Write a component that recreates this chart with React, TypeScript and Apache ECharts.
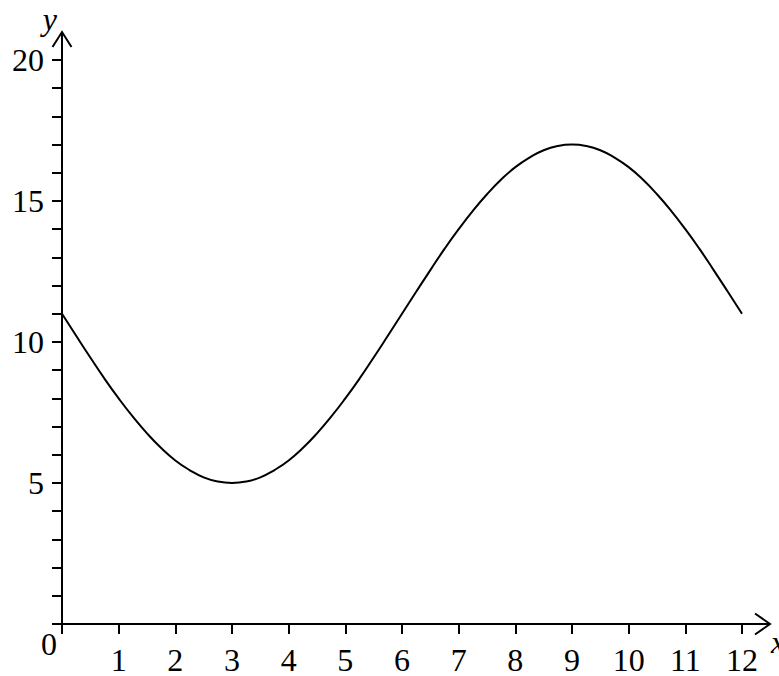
import React, { useEffect, useRef } from "react";
import * as echarts from "echarts";

const xValues = [0, 0.25, 0.5, 0.75, 1, 1.25, 1.5, 1.75, 2, 2.25, 2.5, 2.75, 3, 3.25, 3.5, 3.75, 4, 4.25, 4.5, 4.75, 5, 5.25, 5.5, 5.75, 6, 6.25, 6.5, 6.75, 7, 7.25, 7.5, 7.75, 8, 8.25, 8.5, 8.75, 9, 9.25, 9.5, 9.75, 10, 10.25, 10.5, 10.75, 11, 11.25, 11.5, 11.75, 12];
const yValues = [11, 10.22, 9.45, 8.7, 8, 7.35, 6.76, 6.24, 5.8, 5.46, 5.2, 5.05, 5, 5.05, 5.2, 5.46, 5.8, 6.24, 6.76, 7.35, 8, 8.7, 9.45, 10.22, 11, 11.78, 12.55, 13.3, 14, 14.65, 15.24, 15.76, 16.2, 16.54, 16.8, 16.95, 17, 16.95, 16.8, 16.54, 16.2, 15.76, 15.24, 14.65, 14, 13.3, 12.55, 11.78, 11];
const xMin = 0, xMax = 12, xStep = 1;
const yMin = 0, yMax = 20, yStep = 5;
const originLabel = "0";
const xName = "x";
const yName = "y";

const FONT = "Liberation Serif";

export default function App() {
  const ref = useRef<HTMLDivElement>(null);
  useEffect(() => {
    if (!ref.current) return;
    const chart = echarts.init(ref.current, null, { renderer: "svg" });
    const axisColor = "#000";
    chart.setOption({
      animation: false,
      backgroundColor: "#fff",
      grid: { left: 62, right: 37, top: 60, bottom: 48, containLabel: false },
      xAxis: {
        type: "value",
        min: xMin,
        max: xMax,
        interval: xStep,
        axisLine: { show: false },
        axisTick: { show: true, inside: false, length: 10, lineStyle: { color: axisColor, width: 2 } },
        splitLine: { show: false },
        axisLabel: {
          margin: 25,
          color: "#000",
          fontFamily: FONT,
          fontSize: 32,
          lineHeight: 22,
          formatter: (v: number) => (v === 0 ? "" : String(v)),
        },
      },
      yAxis: {
        type: "value",
        min: yMin,
        max: yMax,
        interval: yStep,
        axisLine: { show: false },
        axisTick: { show: true, inside: false, length: 10, lineStyle: { color: axisColor, width: 2 } },
        minorTick: { show: true, splitNumber: 5, length: 10, lineStyle: { color: axisColor, width: 2 } },
        splitLine: { show: false },
        minorSplitLine: { show: false },
        axisLabel: {
          margin: 18,
          color: "#000",
          fontFamily: FONT,
          fontSize: 32,
          formatter: (v: number) => (v === 0 ? "" : String(v)),
        },
      },
      series: [
        {
          type: "line",
          data: xValues.map((x, i) => [x, yValues[i]]),
          smooth: true,
          showSymbol: false,
          lineStyle: { color: "#000", width: 2 },
        },
      ],
    });

    const o = chart.convertToPixel({ gridIndex: 0 }, [xMin, yMin]) as number[];
    const xe = chart.convertToPixel({ gridIndex: 0 }, [xMax, yMin]) as number[];
    const ye = chart.convertToPixel({ gridIndex: 0 }, [xMin, yMax]) as number[];
    const xTip = xe[0] + 28;
    const yTip = ye[1] - 28;
    const ls = { stroke: "#000", lineWidth: 2, fill: "none" };
    const txt = (text: string, italic: boolean, align: string) => ({
      text,
      fontFamily: FONT,
      fontSize: 32,
      fontStyle: italic ? "italic" : "normal",
      fill: "#000",
      align,
      verticalAlign: "middle",
    });
    chart.setOption({
      graphic: [
        { type: "line", shape: { x1: o[0], y1: o[1], x2: xTip, y2: o[1] }, style: ls, silent: true },
        { type: "polyline", shape: { points: [[xTip - 15, o[1] - 10.5], [xTip, o[1]], [xTip - 15, o[1] + 10.5]] }, style: ls, silent: true },
        { type: "line", shape: { x1: o[0], y1: o[1], x2: o[0], y2: yTip }, style: ls, silent: true },
        { type: "polyline", shape: { points: [[o[0] - 9.5, yTip + 15], [o[0], yTip], [o[0] + 9.5, yTip + 15]] }, style: ls, silent: true },
        { type: "text", x: o[0] - 5, y: o[1] + 20, style: txt(originLabel, false, "right") },
        { type: "text", x: xTip + 1, y: o[1] + 18, style: txt(xName, true, "left") },
        { type: "text", x: o[0] - 5, y: yTip - 13, style: txt(yName, true, "right") },
      ],
    });
    return () => chart.dispose();
  }, []);
  return (
    <div
      ref={ref}
      style={{ position: "fixed", left: 0, top: 0, width: 779, height: 676, background: "#fff" }}
    />
  );
}
